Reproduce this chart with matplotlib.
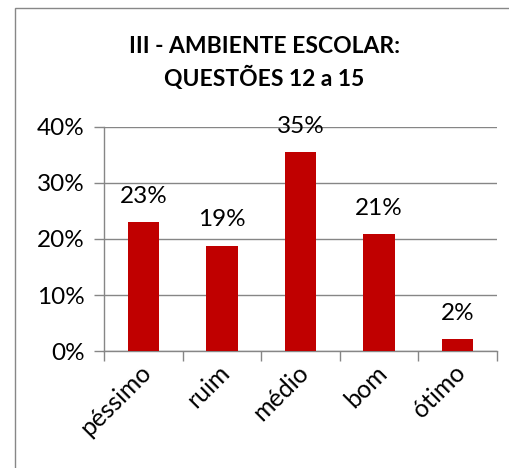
import matplotlib
matplotlib.use('Agg')
import matplotlib.pyplot as plt
from matplotlib.patches import Rectangle
from matplotlib.ticker import PercentFormatter, FixedLocator, NullFormatter
import matplotlib.transforms as mtransforms

plt.rcParams['font.family'] = ['Lato', 'DejaVu Sans']

# Data
categories = ['péssimo', 'ruim', 'médio', 'bom', 'ótimo']
values = [23.0, 18.8, 35.5, 20.9, 2.1]
labels = ['23%', '19%', '35%', '21%', '2%']
title = 'III - AMBIENTE ESCOLAR:\nQUESTÕES 12 a 15'

W, H = 509, 468
fig = plt.figure(figsize=(W / 100, H / 100), dpi=100)

# outer chart border (cut off at right and bottom as in the screenshot)
fig.patches.append(Rectangle((15 / W, -0.2), 1.2, 1 - 8 / H + 0.2,
                             transform=fig.transFigure, fill=False,
                             edgecolor='#878787', linewidth=1.0))

ax = fig.add_axes([104 / W, 1 - 351 / H, (497 - 104) / W, (351 - 127) / H])
x = list(range(len(categories)))
ax.bar(x, values, width=0.4, color='#C00000', zorder=3)
ax.set_xlim(-0.5, len(categories) - 0.5)
ax.set_ylim(0, 40)
ax.set_yticks([0, 10, 20, 30, 40])
ax.yaxis.set_major_formatter(PercentFormatter(decimals=0))
ax.grid(axis='y', color='#868686', linewidth=1.0, zorder=0)

# category ticks on boundaries, labels at centers
ax.xaxis.set_major_locator(FixedLocator([i - 0.5 for i in range(len(categories) + 1)]))
ax.xaxis.set_major_formatter(NullFormatter())
ax.tick_params(axis='x', which='major', length=7, color='#868686', width=1.0)
ax.tick_params(axis='y', length=7, color='#868686', width=1.0, labelsize=17.5, pad=7)

for side in ['top', 'right']:
    ax.spines[side].set_visible(False)
for side in ['left', 'bottom']:
    ax.spines[side].set_color('#868686')
    ax.spines[side].set_linewidth(1.0)

offset = mtransforms.ScaledTranslation(3 / 72, -13 / 72, fig.dpi_scale_trans)
for i, cat in enumerate(categories):
    ax.text(i, 0, cat, transform=ax.get_xaxis_transform() + offset,
            rotation=45, rotation_mode='anchor', ha='right', va='center',
            fontsize=18)

for i, (v, lab) in enumerate(zip(values, labels)):
    ax.annotate(lab, (i, v), xytext=(0, 11), textcoords='offset points',
                ha='center', va='bottom', fontsize=17.5)

fig.text(0.5 + 10 / W, 1 - 63 / H, title, ha='center', va='center',
         fontsize=16.5, fontweight='bold', linespacing=1.4)

fig.savefig('out.png', dpi=100)
